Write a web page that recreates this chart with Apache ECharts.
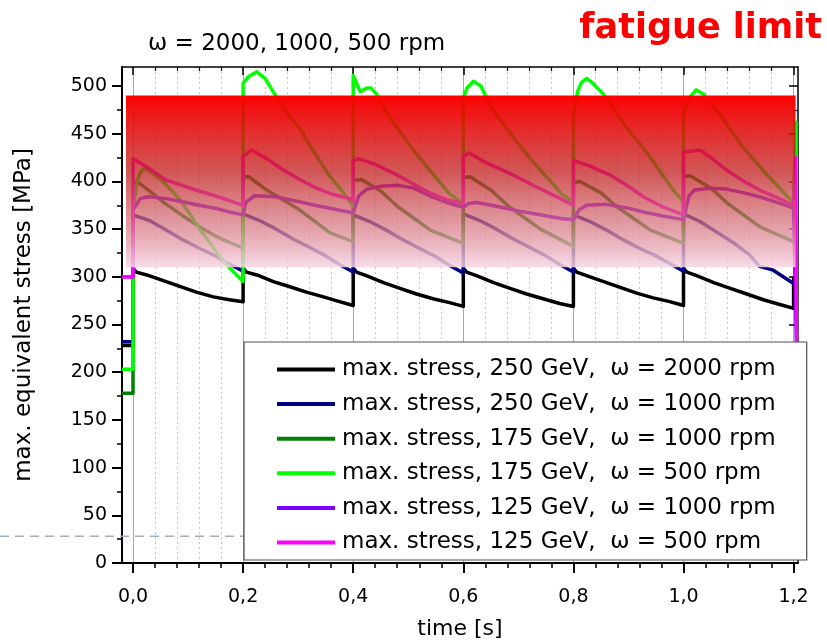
<!DOCTYPE html>
<html>
<head>
<meta charset="utf-8">
<script src="https://cdn.jsdelivr.net/npm/echarts@6/dist/echarts.min.js"></script>
<style>
  html, body { margin: 0; padding: 0; background: #ffffff; }
  #chart { width: 827px; height: 642px; }
</style>
</head>
<body>
<div id="chart"></div>
<script>
// ---- axis ticks -------------------------------------------------------
const xMin = -0.02, xMax = 1.208;
const yMin = 0, yMax = 520;
const majorX = [0, 0.2, 0.4, 0.6, 0.8, 1.0, 1.2];
const minorX = [0.04, 0.08, 0.12, 0.16, 0.24, 0.28, 0.32, 0.36, 0.44, 0.48, 0.52, 0.56,
                0.64, 0.68, 0.72, 0.76, 0.84, 0.88, 0.92, 0.96, 1.04, 1.08, 1.12, 1.16];
const majorY = [0, 50, 100, 150, 200, 250, 300, 350, 400, 450, 500];
const minorY = [25, 75, 125, 175, 225, 275, 325, 375, 425, 475];

// ---- fatigue-limit band and reference level (MPa) ----------------------
const fatigueBand = [310, 490];
const fatigueBandTime = [-0.0127, 1.2036];
const refLevel = 28;

// ---- series: [time s, max. equivalent stress MPa] ------------------------
const black250_2000 = [
  [-0.02, 228], [0, 228], [0, 309], [0.006, 305], [0.025, 302], [0.055, 296], [0.085, 290], [0.115, 284], [0.146, 279], [0.175, 276], [0.2, 274],
  [0.2, 309], [0.206, 305], [0.225, 302], [0.255, 295], [0.285, 289.6], [0.315, 284], [0.346, 279], [0.375, 274], [0.4, 270],
  [0.4, 309], [0.406, 305], [0.425, 301], [0.455, 294], [0.485, 288], [0.515, 282], [0.545, 277], [0.575, 273], [0.6, 269],
  [0.6, 309], [0.606, 305], [0.625, 301], [0.655, 294], [0.685, 288], [0.715, 282], [0.745, 277], [0.775, 272], [0.8, 269],
  [0.8, 309], [0.806, 305], [0.825, 301], [0.855, 295], [0.885, 289], [0.915, 283], [0.945, 278], [0.975, 274], [1.0, 270],
  [1.0, 309], [1.006, 305], [1.025, 301], [1.055, 294], [1.085, 288], [1.115, 282], [1.145, 276], [1.175, 271], [1.2, 267],
  [1.2, 300]
];
const navy250_1000 = [
  [-0.02, 232], [0, 232], [0, 365], [0.03, 359], [0.06, 349], [0.09, 339], [0.12, 330], [0.15, 322], [0.17, 315], [0.2, 306],
  [0.2, 366], [0.23, 359], [0.26, 350], [0.29, 340], [0.32, 331], [0.35, 322], [0.375, 313], [0.4, 305],
  [0.4, 365], [0.43, 358], [0.46, 349], [0.49, 339], [0.52, 330], [0.55, 321], [0.575, 312], [0.6, 304],
  [0.6, 366], [0.63, 359], [0.66, 350], [0.69, 340], [0.72, 331], [0.75, 322], [0.775, 313], [0.8, 305],
  [0.8, 365], [0.83, 358], [0.86, 349], [0.89, 339], [0.92, 330], [0.95, 322], [0.975, 314], [1.0, 306],
  [1.0, 366], [1.03, 358], [1.06, 347], [1.09, 336], [1.12, 323], [1.138, 311], [1.163, 307], [1.2, 293]
];
const dgreen175_1000 = [
  [-0.02, 178], [0, 178], [0, 396], [0.007, 400], [0.028, 391], [0.058, 377], [0.088, 365], [0.119, 353], [0.149, 343], [0.175, 336], [0.2, 330],
  [0.2, 405], [0.21, 405], [0.243, 391], [0.303, 370], [0.358, 346], [0.4, 337],
  [0.4, 401], [0.415, 402], [0.45, 390], [0.48, 374], [0.54, 349], [0.6, 335],
  [0.6, 404], [0.612, 405], [0.65, 391], [0.68, 375], [0.74, 350], [0.8, 332],
  [0.8, 399], [0.812, 400], [0.85, 388], [0.88, 373], [0.94, 349], [1.0, 335],
  [1.0, 405], [1.012, 406], [1.05, 393], [1.08, 377], [1.14, 352], [1.2, 337]
];
const lgreen175_500 = [
  [-0.02, 203], [0, 203], [0, 370], [0.008, 402], [0.015, 411], [0.022, 414], [0.035, 409], [0.058, 398], [0.088, 379], [0.119, 352], [0.149, 328], [0.173, 311], [0.2, 295],
  [0.2, 503], [0.21, 510], [0.225, 515], [0.24, 508], [0.26, 489], [0.28, 472], [0.303, 455], [0.33, 430], [0.358, 405], [0.38, 390], [0.4, 374],
  [0.4, 511], [0.413, 494], [0.425, 498], [0.432, 498], [0.442, 492], [0.46, 473], [0.479, 457], [0.509, 433], [0.539, 412], [0.575, 387], [0.6, 377],
  [0.6, 488], [0.607, 498], [0.618, 505], [0.632, 500], [0.65, 478], [0.69, 447], [0.72, 425], [0.751, 405], [0.78, 386], [0.8, 379],
  [0.8, 470], [0.808, 495], [0.815, 504], [0.824, 508], [0.835, 503], [0.854, 492], [0.875, 475], [0.896, 457], [0.939, 426], [0.981, 391], [1.0, 379],
  [1.0, 470], [1.01, 487], [1.023, 496], [1.035, 492], [1.06, 475], [1.108, 436], [1.15, 408], [1.196, 380], [1.2, 380],
  [1.2045, 462], [1.2055, 215]
];
const pur125_1000 = [
  [-0.02, 300], [0, 300], [0, 370], [0.013, 382], [0.028, 384], [0.06, 382], [0.088, 379], [0.12, 375], [0.149, 372], [0.175, 368], [0.2, 365],
  [0.205, 378], [0.22, 385], [0.26, 384], [0.3, 379], [0.33, 375], [0.358, 372], [0.4, 367],
  [0.41, 385], [0.425, 392], [0.45, 395], [0.48, 396], [0.51, 393], [0.539, 385], [0.57, 378], [0.6, 373],
  [0.61, 377], [0.625, 378], [0.66, 374], [0.7, 369], [0.74, 365], [0.78, 361], [0.8, 360],
  [0.81, 370], [0.824, 375], [0.86, 376], [0.9, 372], [0.927, 368], [0.96, 364], [1.0, 360],
  [1.01, 385], [1.02, 391], [1.05, 393], [1.078, 392], [1.11, 388], [1.138, 384], [1.17, 378], [1.2, 372],
  [1.2058, 215]
];
const mag125_500 = [
  [-0.02, 300], [0, 300], [0, 424], [0.028, 414], [0.058, 402], [0.088, 396], [0.12, 390], [0.149, 385], [0.175, 380], [0.2, 375],
  [0.2, 426], [0.215, 433], [0.24, 425], [0.273, 412], [0.303, 402], [0.333, 393], [0.365, 386], [0.394, 382], [0.4, 379],
  [0.4, 422], [0.41, 424], [0.44, 418], [0.479, 407], [0.51, 397], [0.539, 388], [0.57, 381], [0.6, 377],
  [0.6, 426], [0.61, 430], [0.64, 420], [0.69, 407], [0.73, 395], [0.78, 381], [0.8, 375],
  [0.8, 422], [0.83, 416], [0.866, 407], [0.9, 395], [0.927, 384], [0.96, 374], [1.0, 365],
  [1.0, 431], [1.03, 433], [1.05, 425], [1.078, 412], [1.11, 400], [1.138, 391], [1.17, 383], [1.2, 375],
  [1.203, 425], [1.2058, 215]
];

const seriesNames = [
  'max. stress, 250 GeV,  ω = 2000 rpm',
  'max. stress, 250 GeV,  ω = 1000 rpm',
  'max. stress, 175 GeV,  ω = 1000 rpm',
  'max. stress, 175 GeV,  ω = 500 rpm',
  'max. stress, 125 GeV,  ω = 1000 rpm',
  'max. stress, 125 GeV,  ω = 500 rpm'
];
const seriesData = [black250_2000, navy250_1000, dgreen175_1000, lgreen175_500, pur125_1000, mag125_500];
const seriesColors = ['#000000', '#000080', '#008000', '#00ff00', '#8000ff', '#ff00ff'];

const FONT = 'DejaVu Sans';
const chart = echarts.init(document.getElementById('chart'), null, { renderer: 'canvas' });

const fmtComma = v => Number(v).toFixed(1).replace('.', ',');

const lineSeries = seriesNames.map((name, i) => ({
  name: name,
  type: 'line',
  data: seriesData[i],
  showSymbol: false,
  symbol: 'none',
  color: seriesColors[i],
  lineStyle: { color: seriesColors[i], width: 3.5, join: 'round' },
  z: 2,
  silent: true
}));

// semi-transparent fatigue-limit band drawn over the curves
const bandSeries = {
  name: 'band',
  type: 'line',
  data: [],
  silent: true,
  markArea: {
    z: 10,
    silent: true,
    label: { show: false },
    itemStyle: {
      color: new echarts.graphic.LinearGradient(0, 0, 0, 1, [
        { offset: 0, color: 'rgba(255,0,0,1)' },
        { offset: 0.08, color: 'rgba(240,0,0,0.92)' },
        { offset: 0.45, color: 'rgba(195,35,35,0.76)' },
        { offset: 0.72, color: 'rgba(212,108,118,0.72)' },
        { offset: 1, color: 'rgba(246,214,228,0.86)' }
      ])
    },
    data: [[
      { xAxis: fatigueBandTime[0], yAxis: fatigueBand[0] },
      { xAxis: fatigueBandTime[1], yAxis: fatigueBand[1] }
    ]]
  }
};

const baseX = { type: 'value', gridIndex: 0, min: xMin, max: xMax };
const baseY = { type: 'value', gridIndex: 0, min: yMin, max: yMax };

const option = {
  animation: false,
  backgroundColor: '#ffffff',
  textStyle: { fontFamily: FONT },
  title: [
    {
      text: 'ω = 2000, 1000, 500 rpm',
      left: 148, top: 33, padding: 0,
      textStyle: { fontFamily: FONT, fontSize: 23, fontWeight: 'normal', color: '#000' }
    },
    {
      text: 'fatigue limit',
      right: 5, top: 11, padding: 0,
      textStyle: { fontFamily: FONT, fontSize: 35, fontWeight: 'bold', color: '#ff0000' }
    }
  ],
  grid: { left: 122, right: 29, top: 67, bottom: 79, containLabel: false, outerBoundsMode: 'none' },
  legend: {
    data: seriesNames,
    orient: 'vertical',
    left: 244, top: 342,
    padding: [16, 31, 6, 33],
    itemGap: 11.6,
    itemWidth: 58, itemHeight: 4,
    icon: 'rect',
    backgroundColor: '#ffffff',
    borderColor: '#505050', borderWidth: 1.2,
    textStyle: { fontFamily: FONT, fontSize: 23, color: '#000', padding: [0, 0, 0, 2] },
    selectedMode: false,
    z: 6
  },
  xAxis: [
    Object.assign({}, baseX, {
      position: 'bottom',
      name: 'time [s]', nameLocation: 'middle', nameGap: 55,
      nameTextStyle: { fontFamily: FONT, fontSize: 22, color: '#000' },
      axisLine: { show: true, onZero: false, lineStyle: { color: '#000', width: 2 } },
      axisTick: { show: true, customValues: majorX, inside: false, length: 10, lineStyle: { color: '#000', width: 2 } },
      axisLabel: { show: true, customValues: majorX, formatter: fmtComma, margin: 25, fontFamily: FONT, fontSize: 19, color: '#000' },
      splitLine: { show: true, customValues: majorX, lineStyle: { color: '#a8a8a8', width: 1 } }
    }),
    Object.assign({}, baseX, {
      position: 'bottom',
      axisLine: { show: false, onZero: false },
      axisTick: { show: true, customValues: minorX, inside: false, length: 5, lineStyle: { color: '#000', width: 1.5 } },
      axisLabel: { show: false },
      splitLine: { show: true, customValues: minorX, lineStyle: { color: '#c4c4c4', width: 1, type: [2, 3] } }
    }),
    Object.assign({}, baseX, {
      position: 'top',
      axisLine: { show: true, onZero: false, lineStyle: { color: '#000', width: 1.5 } },
      axisTick: { show: true, customValues: majorX, inside: true, length: 8, lineStyle: { color: '#000', width: 1.5 } },
      axisLabel: { show: false },
      splitLine: { show: false }
    }),
    Object.assign({}, baseX, {
      position: 'top',
      axisLine: { show: false, onZero: false },
      axisTick: { show: true, customValues: minorX, inside: true, length: 4, lineStyle: { color: '#000', width: 1.2 } },
      axisLabel: { show: false },
      splitLine: { show: false }
    })
  ],
  yAxis: [
    Object.assign({}, baseY, {
      position: 'left',
      name: 'max. equivalent stress [MPa]', nameLocation: 'middle', nameGap: 86, nameRotate: 90,
      nameTextStyle: { fontFamily: FONT, fontSize: 23, color: '#000' },
      axisLine: { show: true, onZero: false, lineStyle: { color: '#000', width: 2 } },
      axisTick: { show: true, customValues: majorY, inside: false, length: 10, lineStyle: { color: '#000', width: 2 } },
      axisLabel: { show: true, customValues: majorY, margin: 15, fontFamily: FONT, fontSize: 19, color: '#000' },
      splitLine: { show: false }
    }),
    Object.assign({}, baseY, {
      position: 'left',
      axisLine: { show: false, onZero: false },
      axisTick: { show: true, customValues: minorY, inside: false, length: 5, lineStyle: { color: '#000', width: 1.5 } },
      axisLabel: { show: false },
      splitLine: { show: false }
    }),
    Object.assign({}, baseY, {
      position: 'right',
      axisLine: { show: true, onZero: false, lineStyle: { color: '#000', width: 1.5 } },
      axisTick: { show: true, customValues: majorY, inside: true, length: 9, lineStyle: { color: '#000', width: 1.5 } },
      axisLabel: { show: false },
      splitLine: { show: false }
    }),
    Object.assign({}, baseY, {
      position: 'right',
      axisLine: { show: false, onZero: false },
      axisTick: { show: true, customValues: minorY, inside: true, length: 5, lineStyle: { color: '#000', width: 1.2 } },
      axisLabel: { show: false },
      splitLine: { show: false }
    })
  ],
  series: lineSeries.concat([bandSeries])
};

chart.setOption(option);

// dashed reference level, running across the full width
const yRef = chart.convertToPixel({ yAxisIndex: 0 }, refLevel);
chart.setOption({
  graphic: [{
    type: 'line',
    z: 3,
    silent: true,
    shape: { x1: 0, y1: yRef, x2: 808, y2: yRef },
    style: { stroke: '#9db0c4', lineWidth: 1.5, lineDash: [9, 6] }
  }]
});
</script>
</body>
</html>
